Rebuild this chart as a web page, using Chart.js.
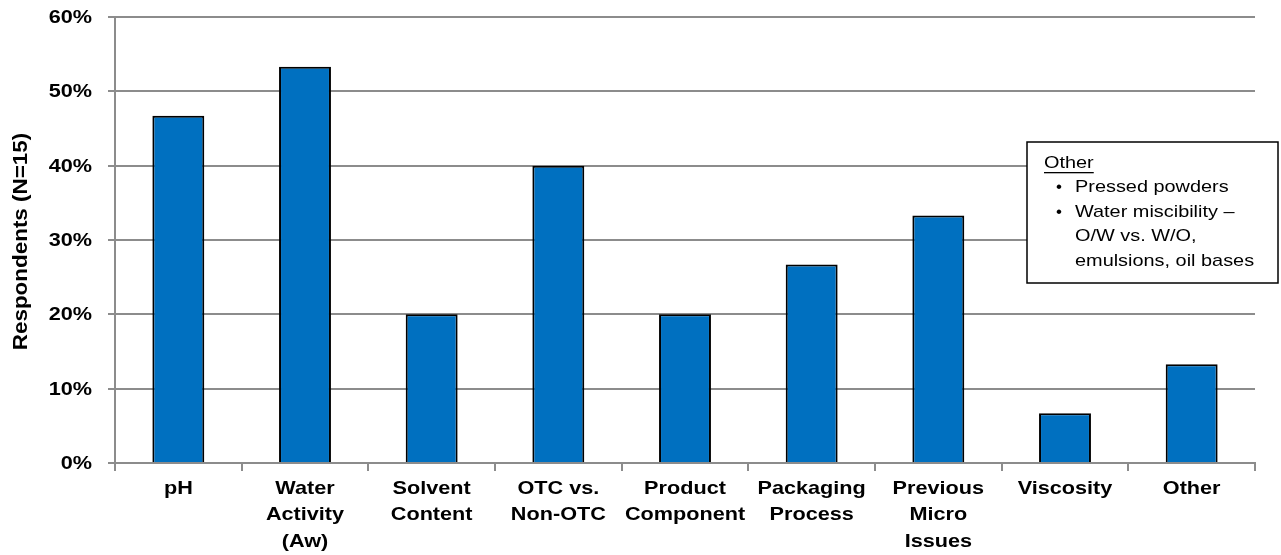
<!DOCTYPE html>
<html>
<head>
<meta charset="utf-8">
<script src="https://cdn.jsdelivr.net/npm/chart.js@4/dist/chart.umd.min.js"></script>
<style>
  html, body { margin: 0; padding: 0; background: #fff; }
  #wrap { width: 1281px; height: 555px; }
</style>
</head>
<body>
<div id="wrap"><canvas id="myChart" width="1281" height="555"></canvas></div>
<script>
// categories (multi-line labels) and share of respondents, N=15
const categories = [
  ['pH'],
  ['Water', 'Activity', '(Aw)'],
  ['Solvent', 'Content'],
  ['OTC vs.', 'Non-OTC'],
  ['Product', 'Component'],
  ['Packaging', 'Process'],
  ['Previous', 'Micro', 'Issues'],
  ['Viscosity'],
  ['Other']
];
const respondents = [46.7, 53.3, 20.0, 40.0, 20.0, 26.7, 33.3, 6.7, 13.3];
const yTicks = [0, 10, 20, 30, 40, 50, 60];
const yTitle = 'Respondents (N=15)';

const otherTitle = 'Other';
const otherItems = [
  ['Pressed powders'],
  ['Water miscibility \u2013', 'O/W vs. W/O,', 'emulsions, oil bases']
];

const GRID = '#8c8c8c';
const FONT = '"Liberation Sans", Arial, sans-serif';
const WIDE = 1.17; // the labels use a slightly widened face

// draw a string stretched along its own direction
function wideText(ctx, str, x, y, align, k, rot) {
  ctx.save();
  ctx.translate(x, y);
  if (rot) ctx.rotate(rot);
  ctx.scale(k, 1);
  ctx.textAlign = align;
  ctx.fillText(str, 0, 0);
  ctx.restore();
}

// axis labels and title
const axisText = {
  id: 'axisText',
  afterDraw(chart) {
    const ctx = chart.ctx;
    const xs = chart.scales.x, ys = chart.scales.y;
    ctx.save();
    ctx.fillStyle = '#000';
    ctx.font = 'bold 18.5px ' + FONT;

    ctx.textBaseline = 'middle';
    yTicks.forEach(v => {
      wideText(ctx, v + '%', 92, ys.getPixelForValue(v) + 1, 'right', WIDE);
    });

    ctx.textBaseline = 'alphabetic';
    categories.forEach((lines, i) => {
      const cx = xs.getPixelForTick(i);
      lines.forEach((line, j) => {
        wideText(ctx, line, cx, 493.5 + j * 26.7, 'center', WIDE);
      });
    });

    ctx.font = 'bold 19.5px ' + FONT;
    wideText(ctx, yTitle, 26.5, (ys.top + ys.bottom) / 2 + 1.5, 'center', 1.15, -Math.PI / 2);
    ctx.restore();
  }
};

// note box with the "Other" answers
const noteBox = {
  id: 'noteBox',
  afterDraw(chart) {
    const ctx = chart.ctx;
    const x = 1027, y = 142, w = 251, h = 141;
    ctx.save();
    ctx.fillStyle = '#fff';
    ctx.fillRect(x, y, w, h);
    ctx.strokeStyle = '#000';
    ctx.lineWidth = 1.5;
    ctx.strokeRect(x, y, w, h);

    ctx.fillStyle = '#000';
    ctx.font = '17px ' + FONT;
    ctx.textBaseline = 'middle';
    let ty = y + 21;
    wideText(ctx, otherTitle, x + 17, ty, 'left', WIDE);
    const tw = ctx.measureText(otherTitle).width * WIDE;
    ctx.fillRect(x + 17, ty + 9, tw, 1.3);

    otherItems.forEach(item => {
      item.forEach((line, i) => {
        ty += 24.6;
        if (i === 0) wideText(ctx, '\u2022', x + 32, ty, 'center', 1);
        wideText(ctx, line, x + 48, ty, 'left', WIDE);
      });
    });
    ctx.restore();
  }
};

new Chart(document.getElementById('myChart').getContext('2d'), {
  type: 'bar',
  data: {
    labels: categories,
    datasets: [{
      data: respondents,
      backgroundColor: '#0070C0',
      borderColor: '#000',
      borderWidth: 2,
      barPercentage: 0.82,
      categoryPercentage: 0.5
    }]
  },
  options: {
    responsive: false,
    animation: false,
    layout: { padding: { top: 17, right: 26, bottom: 0, left: 0 } },
    plugins: {
      legend: { display: false },
      tooltip: { enabled: false }
    },
    scales: {
      x: {
        offset: true,
        grid: {
          display: true,
          drawOnChartArea: false,
          drawTicks: true,
          tickLength: 8,
          color: GRID,
          lineWidth: 2
        },
        border: { color: GRID, width: 2 },
        ticks: { display: false, autoSkip: false },
        afterFit(scale) { scale.height = 92; }
      },
      y: {
        min: 0,
        max: 60,
        afterBuildTicks(scale) {
          scale.ticks = yTicks.map(v => ({ value: v }));
        },
        grid: {
          color: GRID,
          lineWidth: 2,
          drawTicks: true,
          tickLength: 7
        },
        border: { color: GRID, width: 2 },
        ticks: { display: false },
        afterFit(scale) { scale.width = 115; }
      }
    }
  },
  plugins: [axisText, noteBox]
});
</script>
</body>
</html>
